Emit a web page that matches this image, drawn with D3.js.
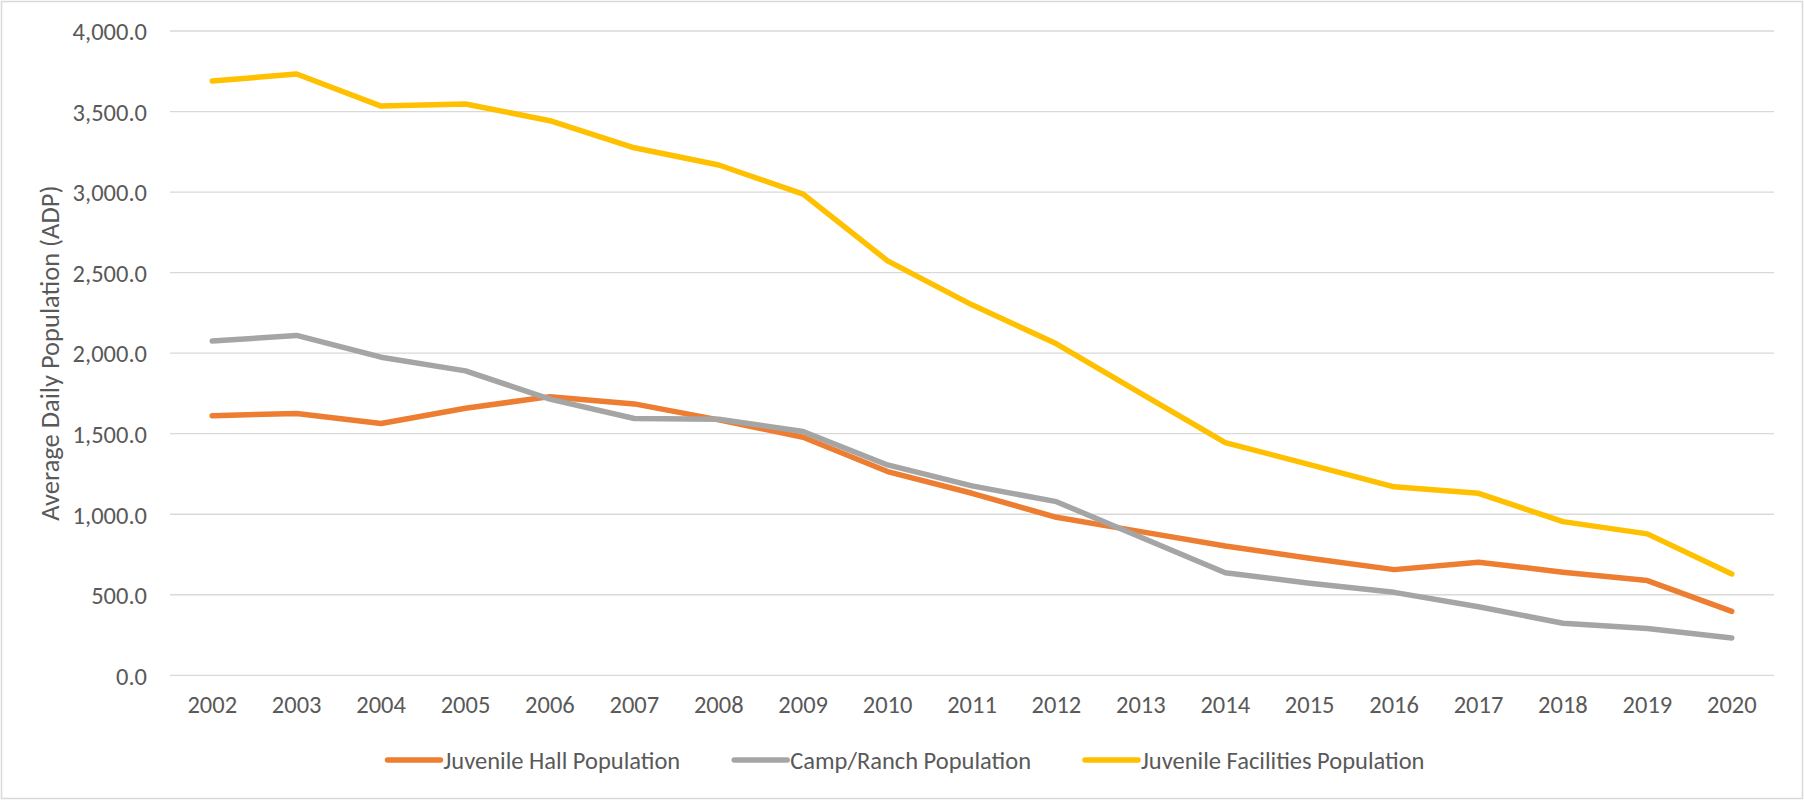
<!DOCTYPE html>
<html>
<head>
<meta charset="utf-8">
<script src="https://cdn.jsdelivr.net/npm/d3@7"></script>
<style>
  body { margin: 0; background: #fff; }
  svg text { font-family: Carlito, Calibri, Lato, sans-serif; fill: #595959; }
</style>
</head>
<body>
<div id="chart"></div>
<script>
// data
const years = ["2002", "2003", "2004", "2005", "2006", "2007", "2008", "2009", "2010",
  "2011", "2012", "2013", "2014", "2015", "2016", "2017", "2018", "2019", "2020"];
const hallPop = [1612, 1625, 1563, 1658, 1730, 1685, 1586, 1478, 1265, 1130, 981, 892, 803, 727, 656, 702, 640, 588, 397];
const campPop = [2075, 2110, 1975, 1890, 1715, 1594, 1590, 1513, 1306, 1176, 1078, 857, 637, 571, 515, 426, 323, 290, 232];
const facilitiesPop = [3689, 3733, 3534, 3547, 3443, 3275, 3168, 2987, 2573, 2300, 2058, 1750, 1445, 1308, 1170, 1130, 954, 878, 629];
const yTicks = [0, 500, 1000, 1500, 2000, 2500, 3000, 3500, 4000];

const seriesNames = ["Juvenile Hall Population", "Camp/Ranch Population", "Juvenile Facilities Population"];
const seriesColors = ["#ED7D31", "#A5A5A5", "#FFC000"];

const W = 1804, H = 801;
const margin = { top: 31, right: 30, bottom: 126, left: 170 };
const fontSize = 24.5;

const svg = d3.select("#chart").append("svg")
  .attr("width", W)
  .attr("height", H);

// outer chart border
svg.append("rect")
  .attr("x", 1.5).attr("y", 1.5)
  .attr("width", W - 3).attr("height", H - 4)
  .attr("fill", "#fff")
  .attr("stroke", "#d9d9d9")
  .attr("stroke-width", 1.5);

const x = d3.scaleBand()
  .domain(years)
  .range([margin.left, W - margin.right]);

const y = d3.scaleLinear()
  .domain([0, 4000])
  .range([H - margin.bottom + 0.3, margin.top]);

// gridlines
svg.append("g")
  .selectAll("line")
  .data(yTicks)
  .join("line")
  .attr("x1", margin.left)
  .attr("x2", W - margin.right)
  .attr("y1", (d) => y(d))
  .attr("y2", (d) => y(d))
  .attr("stroke", "#d9d9d9")
  .attr("stroke-width", 1.3);

// y axis labels
const yAxis = svg.append("g")
  .attr("transform", `translate(${margin.left - 23},0)`)
  .call(d3.axisLeft(y).tickValues(yTicks).tickSize(0).tickPadding(0).tickFormat(d3.format(",.1f")));
yAxis.select(".domain").remove();
yAxis.selectAll("text")
  .attr("font-size", fontSize)
  .attr("dy", "0.36em");

// x axis labels
const xAxis = svg.append("g")
  .attr("transform", `translate(0,${y(0)})`)
  .call(d3.axisBottom(x).tickSize(0).tickPadding(0));
xAxis.select(".domain").remove();
xAxis.selectAll("text")
  .attr("font-size", fontSize)
  .attr("dy", null)
  .attr("y", 38);

// axis title
svg.append("text")
  .attr("transform", `translate(59,${(y(0) + y(4000)) / 2}) rotate(-90)`)
  .attr("text-anchor", "middle")
  .attr("font-size", 26.5)
  .text("Average Daily Population (ADP)");

// lines
const allSeries = [hallPop, campPop, facilitiesPop];
const line = d3.line()
  .x((d, i) => x(years[i]) + x.bandwidth() / 2)
  .y((d) => y(d));

svg.append("g")
  .selectAll("path")
  .data(allSeries)
  .join("path")
  .attr("d", (d) => line(d))
  .attr("fill", "none")
  .attr("stroke", (d, i) => seriesColors[i])
  .attr("stroke-width", 5.5)
  .attr("stroke-linecap", "round")
  .attr("stroke-linejoin", "round");

// legend
const legend = svg.append("g");
const legendY = 760;
let lx = 0;
seriesNames.forEach((name, i) => {
  const g = legend.append("g").attr("transform", `translate(${lx},0)`);
  g.append("line")
    .attr("x1", 2).attr("x2", 55)
    .attr("y1", legendY).attr("y2", legendY)
    .attr("stroke", seriesColors[i])
    .attr("stroke-width", 5.5)
    .attr("stroke-linecap", "round");
  const t = g.append("text")
    .attr("x", 58)
    .attr("y", legendY)
    .attr("dy", "0.35em")
    .attr("font-size", fontSize)
    .text(name);
  const tw = t.node().getComputedTextLength();
  lx += 58 + tw + 52;
});
const legendW = lx - 52;
legend.attr("transform", `translate(${905 - legendW / 2},0)`);
</script>
</body>
</html>
